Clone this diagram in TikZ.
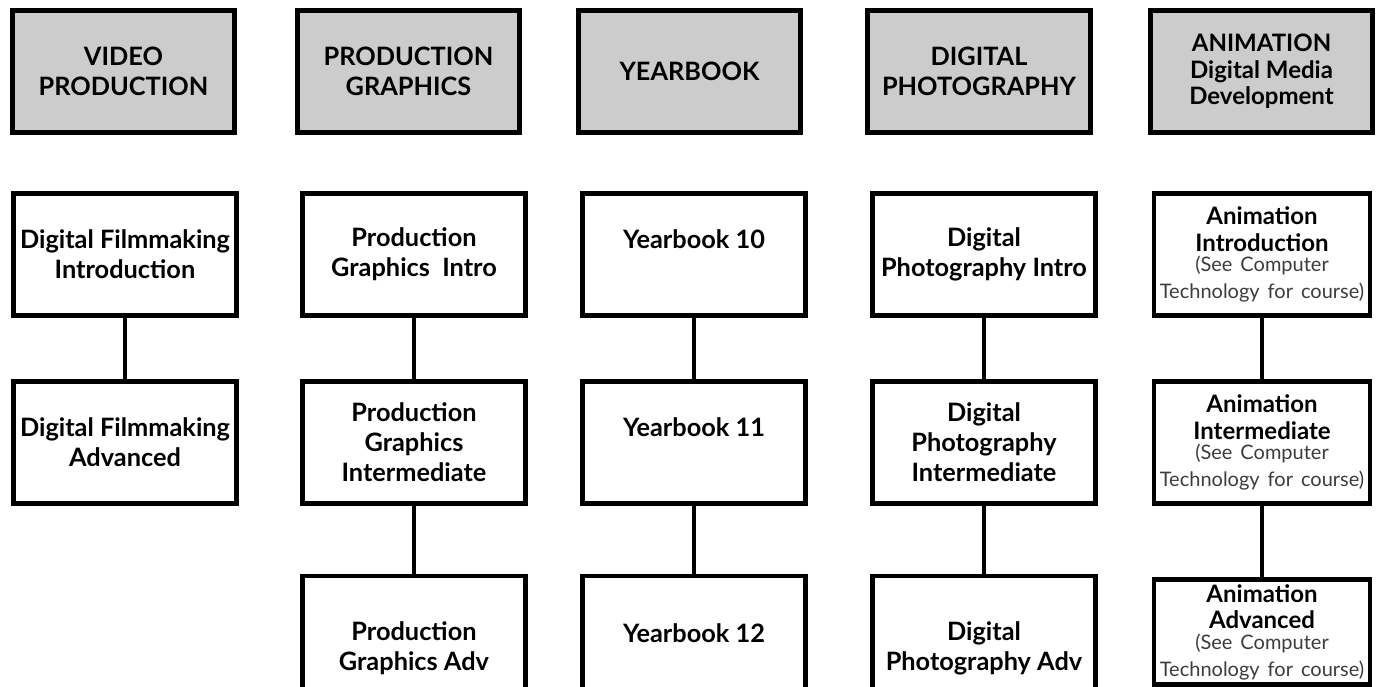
\documentclass[tikz,border=0pt]{standalone}
\usepackage{fontspec}
\setmainfont{Lato}
\usepackage{xcolor}
\usepackage{tikz}
\definecolor{headgray}{RGB}{204,204,204}
\definecolor{notegray}{RGB}{60,60,60}
\newcommand{\coursefont}{\fontsize{19pt}{22.5pt}\selectfont\bfseries}
\newcommand{\animfont}{\fontsize{18pt}{20pt}\selectfont\bfseries}
\newcommand{\seenote}{\\[1pt]{\fontsize{15pt}{14.5pt}\selectfont\mdseries\color{notegray}%
  \makebox[0pt]{(See Computer}\\\makebox[0pt]{Technology for course)}}}

\begin{document}
\begin{tikzpicture}[x=0.75pt, y=-0.75pt,
    box/.style={draw, line width=3.7pt, minimum width=167pt, minimum height=92pt,
      align=center, inner sep=2pt, font=\coursefont},
    headbox/.style={box, fill=headgray},
    animbox/.style={box, text width=150pt, minimum width=162pt, inner xsep=6pt,
      inner ysep=1pt, font=\animfont},
    link/.style={line width=3.1pt}]
    \useasboundingbox (0,0) rectangle (1377,686);

    % category headers
    \node[headbox] (vidhead) at (123.5,71.5) {VIDEO\\PRODUCTION};
    \node[headbox] (pghead) at (408.5,71.5) {PRODUCTION\\GRAPHICS};
    \node[headbox] (ybhead) at (689.5,71.5) {YEARBOOK};
    \node[headbox] (phhead) at (979,71.5) {DIGITAL\\PHOTOGRAPHY};
    \node[headbox, font=\animfont] (anhead) at (1261.5,71.5)
      {ANIMATION\\Digital Media\\Development};

    % courses
    \node[box] (vidintro) at (125,254.5) {Digital Filmmaking\\Introduction};
    \node[box] (vidadv) at (125,442.5) {Digital Filmmaking\\Advanced};

    \node[box] (pgintro) at (414,254.5) {Production\\Graphics\ \ Intro};
    \node[box] (pgmid) at (414,442.5) {Production\\Graphics\\Intermediate};
    \node[box, minimum height=108pt] (pgadv) at (414,648) {Production\\Graphics Adv};

    \node[box] (yb10) at (694,254.5) {Yearbook 10\\~};
    \node[box] (yb11) at (694,442.5) {Yearbook 11\\~};
    \node[box, minimum height=108pt] (yb12) at (694,648) {Yearbook 12\\~};

    \node[box] (phintro) at (984,254.5) {Digital\\Photography Intro};
    \node[box] (phmid) at (984,442.5) {Digital\\Photography\\Intermediate};
    \node[box, minimum height=108pt] (phadv) at (984,648) {Digital\\Photography Adv};

    \node[animbox] (anintro) at (1262,254.5) {Animation\\Introduction\seenote};
    \node[animbox] (anmid) at (1262,442.5) {Animation\\Intermediate\seenote};
    \node[animbox, minimum height=79pt] (anadv) at (1262,632) {Animation\\Advanced\seenote};

    % sequence links
    \draw[link] (vidintro) -- (vidadv);
    \draw[link] (pgintro) -- (pgmid);
    \draw[link] (pgmid) -- (pgadv);
    \draw[link] (yb10) -- (yb11);
    \draw[link] (yb11) -- (yb12);
    \draw[link] (phintro) -- (phmid);
    \draw[link] (phmid) -- (phadv);
    \draw[link] (anintro) -- (anmid);
    \draw[link] (anmid) -- (anadv);
\end{tikzpicture}
\end{document}
